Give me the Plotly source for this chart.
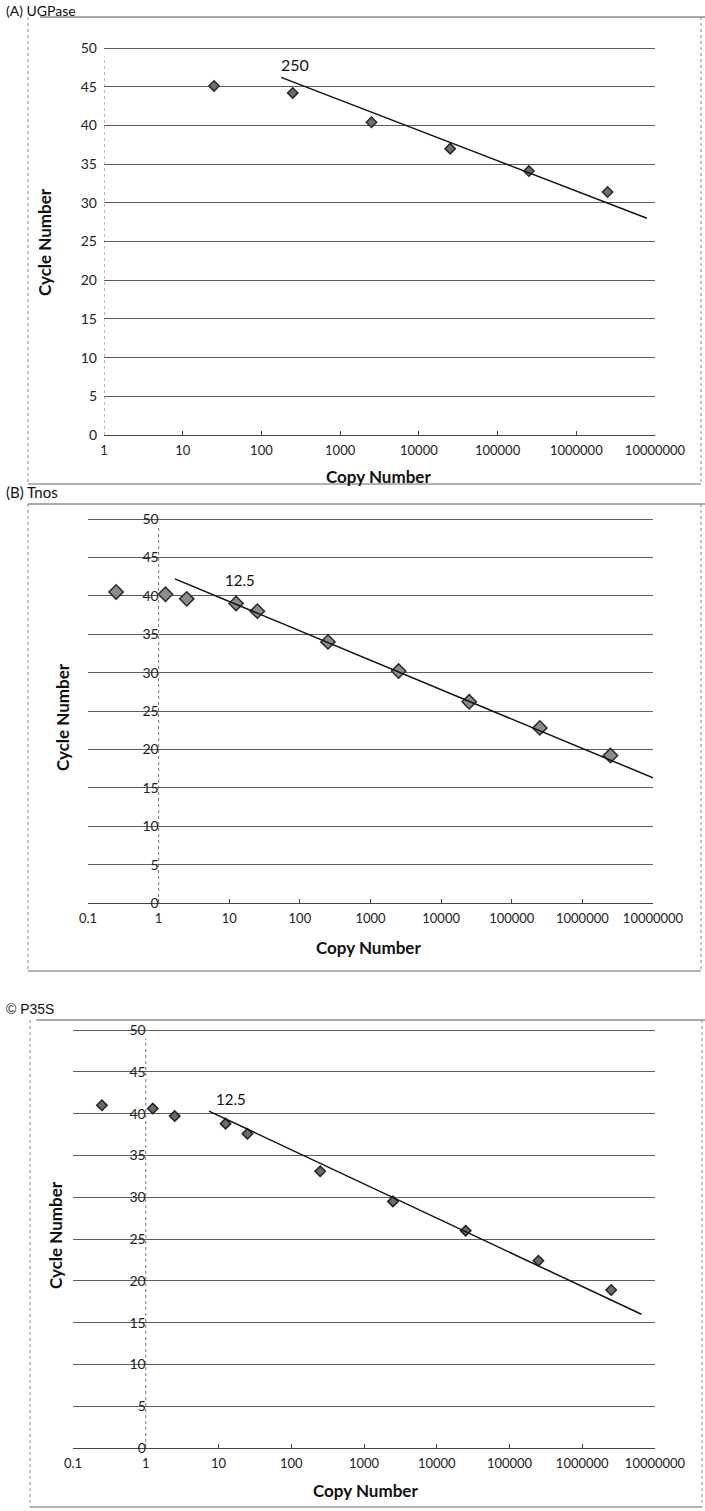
import plotly.graph_objects as go
import math

W, H = 705, 1511

# ---------------- data ----------------
a_copy = [25, 250, 2500, 25000, 250000, 2500000]
a_cycle = [45.1, 44.2, 40.4, 37.0, 34.1, 31.4]
a_fit_copy = [178, 7.9e6]
a_fit_cycle = [46.2, 28.0]
a_label = "250"

b_copy = [0.25, 1.25, 2.5, 12.5, 25, 250, 2500, 25000, 250000, 2500000]
b_cycle = [40.5, 40.2, 39.6, 39.0, 38.0, 34.0, 30.2, 26.2, 22.8, 19.2]
b_fit_copy = [1.7, 1e7]
b_fit_cycle = [42.2, 16.3]
b_label = "12.5"

c_copy = [0.25, 1.25, 2.5, 12.5, 25, 250, 2500, 25000, 250000, 2500000]
c_cycle = [41.0, 40.6, 39.7, 38.8, 37.6, 33.1, 29.5, 26.0, 22.4, 18.9]
c_fit_copy = [7.4, 6.5e6]
c_fit_cycle = [40.3, 16.0]
c_label = "12.5"

y_ticks = [0, 5, 10, 15, 20, 25, 30, 35, 40, 45, 50]
a_xticks = [1, 10, 100, 1000, 10000, 100000, 1000000, 10000000]
a_xticklabels = ["1", "10", "100", "1000", "10000", "100000", "1000000", "10000000"]
bc_xticks = [0.1, 1, 10, 100, 1000, 10000, 100000, 1000000, 10000000]
bc_xticklabels = ["0.1", "1", "10", "100", "1000", "10000", "100000", "1000000", "10000000"]

titles = ["(A) UGPase", "(B) Tnos", "\u00a9 P35S"]
x_title = "Copy Number"
y_title = "Cycle Number"

# ---------------- layout helpers ----------------
def px(x):
    return x / W

def py(y):
    return 1 - y / H

GRID = "#5c5c5c"
FONT = "Lato"
YTOP = 50.25  # a little headroom so the 50 gridline is drawn

fig = go.Figure()

# panel geometry in pixels: (x_left, x_right, y of 50, y of 0)
panels = [
    dict(xl=104, xr=655, yt=48, yb=435, xr_log=[0, 7], ticks=a_xticks, labels=a_xticklabels,
         copy=a_copy, cycle=a_cycle, fc=a_fit_copy, fy=a_fit_cycle, lab=a_label, lab_x=265, lab_y=47.9,
         msize=8, mfill="#6e6e6e", mline="#2a2a2a", lab_size=16),
    dict(xl=88, xr=653, yt=519, yb=903, xr_log=[-1, 7], ticks=bc_xticks, labels=bc_xticklabels,
         copy=b_copy, cycle=b_cycle, fc=b_fit_copy, fy=b_fit_cycle, lab=b_label, lab_x=14, lab_y=42.0,
         msize=11, mfill="#8c8c8c", mline="#2a2a2a", lab_size=15),
    dict(xl=73, xr=655, yt=1030, yb=1448, xr_log=[-1, 7], ticks=bc_xticks, labels=bc_xticklabels,
         copy=c_copy, cycle=c_cycle, fc=c_fit_copy, fy=c_fit_cycle, lab=c_label, lab_x=15, lab_y=41.7,
         msize=8, mfill="#6a6a6a", mline="#222222", lab_size=15),
]

for i, p in enumerate(panels):
    n = "" if i == 0 else str(i + 1)
    xa, ya = "x" + n, "y" + n
    fig.add_trace(go.Scatter(x=p["copy"], y=p["cycle"], mode="markers", xaxis=xa, yaxis=ya,
                             marker=dict(symbol="diamond", size=p["msize"], color=p["mfill"],
                                         line=dict(color=p["mline"], width=1.5)),
                             showlegend=False, cliponaxis=False))
    fig.add_trace(go.Scatter(x=p["fc"], y=p["fy"], mode="lines", xaxis=xa, yaxis=ya,
                             line=dict(color="#111111", width=1.5), showlegend=False))
    ppu = (p["yb"] - p["yt"]) / 50.0
    xdom = [px(p["xl"]), px(p["xr"])]
    ydom = [py(p["yb"]), py(p["yt"] - (YTOP - 50) * ppu)]
    fig.layout["xaxis" + n] = dict(
        type="log", range=p["xr_log"], domain=xdom, anchor=ya, automargin=False,
        tickvals=p["ticks"], ticktext=p["labels"], showgrid=False, zeroline=False,
        showline=True, linecolor="#444444", linewidth=1, ticks="inside", ticklen=4,
        tickcolor="#444444", ticklabelstandoff=3,
        tickfont=dict(family=FONT, size=13, color="#222222"),
    )
    yax = dict(
        range=[0, YTOP], domain=ydom, tickvals=y_ticks, showgrid=True, gridcolor=GRID,
        gridwidth=1, zeroline=False, showline=False, ticks="", automargin=False,
        tickfont=dict(family=FONT, size=14, color="#222222"),
    )
    if i == 0:
        yax["anchor"] = xa
        yax["ticklabelstandoff"] = 6
    else:
        # vertical axis crosses at copy number = 1
        frac = (math.log10(1) - p["xr_log"][0]) / (p["xr_log"][1] - p["xr_log"][0])
        yax["anchor"] = "free"
        yax["position"] = xdom[0] + frac * (xdom[1] - xdom[0])
    fig.layout["yaxis" + n] = yax

    # dashed vertical axis line at copy number 1
    fig.add_shape(type="line", xref=xa, yref=ya, x0=1, x1=1, y0=0, y1=49,
                  line=dict(color="#777777", width=1, dash="dot"))
    # data label
    fig.add_annotation(x=math.log10(p["lab_x"]), y=p["lab_y"], xref=xa, yref=ya, text=p["lab"],
                       showarrow=False, xanchor="center", yanchor="middle",
                       font=dict(family=FONT, size=p["lab_size"], color="#111111"))

# axis titles
xt_pos = [(378, 476), (368, 948), (365, 1490)]
yt_pos = [(45, 242), (62, 717), (55, 1235)]
for (x, y) in xt_pos:
    fig.add_annotation(x=px(x), y=py(y), xref="paper", yref="paper", text="<b>" + x_title + "</b>",
                       showarrow=False, xanchor="center", yanchor="middle",
                       font=dict(family=FONT, size=17, color="#111111"))
for (x, y) in yt_pos:
    fig.add_annotation(x=px(x), y=py(y), xref="paper", yref="paper", text="<b>" + y_title + "</b>",
                       showarrow=False, textangle=-90, xanchor="center", yanchor="middle",
                       font=dict(family=FONT, size=17, color="#111111"))

# panel titles
title_pos = [(4, 10), (4, 492), (4, 1009)]
title_fonts = [dict(family=FONT, size=14, color="#111111"),
               dict(family=FONT, size=15, color="#111111"),
               dict(family="Liberation Sans", size=14, color="#111111")]
for t, (x, y), f in zip(titles, title_pos, title_fonts):
    fig.add_annotation(x=px(x), y=py(y), xref="paper", yref="paper", text=t, showarrow=False,
                       xanchor="left", yanchor="middle", font=f)

# panel borders
BORDER = dict(color="#8a8a8a", width=1, dash="dot")
borders = [
    dict(top=17, bottom=484, left=28, right=701, top_start=40),
    dict(top=504, bottom=971, left=28, right=701, top_start=28),
    dict(top=1020, bottom=1507, left=30, right=702, top_start=36),
]
for b in borders:
    fig.add_shape(type="line", xref="paper", yref="paper", x0=px(b["top_start"]), x1=1,
                  y0=py(b["top"]), y1=py(b["top"]), line=dict(color="#555555", width=1))
    fig.add_shape(type="line", xref="paper", yref="paper", x0=px(b["left"]), x1=px(b["right"]),
                  y0=py(b["bottom"]), y1=py(b["bottom"]), line=dict(color="#666666", width=1))
    fig.add_shape(type="line", xref="paper", yref="paper", x0=px(b["left"]), x1=px(b["left"]),
                  y0=py(b["top"]), y1=py(b["bottom"]), line=BORDER)
    fig.add_shape(type="line", xref="paper", yref="paper", x0=px(b["right"]), x1=px(b["right"]),
                  y0=py(b["top"]), y1=py(b["bottom"]), line=BORDER)

fig.update_layout(width=W, height=H, margin=dict(l=0, r=0, t=0, b=0, pad=0, autoexpand=False),
                  paper_bgcolor="white", plot_bgcolor="white", showlegend=False)

fig.write_html("out.html")
